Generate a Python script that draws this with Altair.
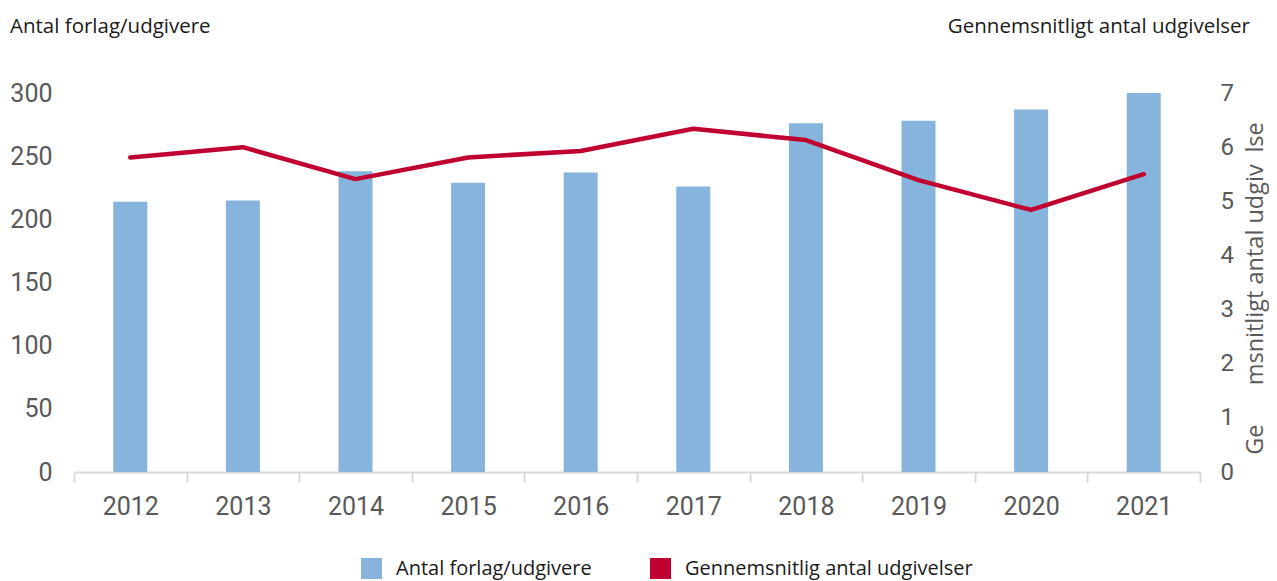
import altair as alt
import pandas as pd

years = ["2012", "2013", "2014", "2015", "2016", "2017", "2018", "2019", "2020", "2021"]
publishers = [214, 215, 238, 229, 237, 226, 276, 278, 287, 300]
avg_releases = [5.81, 6.00, 5.41, 5.81, 5.93, 6.34, 6.13, 5.39, 4.84, 5.50]
series_names = ["Antal forlag/udgivere", "Gennemsnitlig antal udgivelser"]
series_colors = ["#86b4dd", "#c0002f"]
left_ticks = [0, 50, 100, 150, 200, 250, 300]
right_ticks = [0, 1, 2, 3, 4, 5, 6, 7]
left_title = "Antal forlag/udgivere"
right_top_title = "Gennemsnitligt antal udgivelser"
right_axis_title = "Ge\u2003\u2002\u2009msnitligt antal udgiv\u2002lse"

FONT = "Roboto"
TFONT = "Open Sans"
GRAY = "#595959"

df = pd.DataFrame({"year": years, "publishers": publishers, "avg": avg_releases})

color_scale = alt.Scale(domain=series_names, range=series_colors)
legend = alt.Legend(
    orient="none", legendX=287, legendY=465, direction="horizontal", title=None,
    symbolType="square", symbolSize=440, symbolStrokeWidth=0,
    labelFontSize=20, labelFont=TFONT, labelColor="#1a1a1a", labelLimit=0,
    labelOffset=14, columnPadding=58,
)

x_enc = alt.X(
    "year:N", sort=years,
    scale=alt.Scale(paddingInner=0, paddingOuter=0),
    axis=alt.Axis(
        title=None, labelAngle=0, labelFontSize=25, labelFont=FONT, labelColor=GRAY,
        labelPadding=12, tickBand="extent", tickColor="#d9d9d9", tickSize=10,
        tickWidth=2, domainColor="#d9d9d9", domainWidth=2, grid=False,
    ),
)

bars = alt.Chart(df).transform_calculate(series=f"'{series_names[0]}'").mark_bar(size=34).encode(
    x=x_enc,
    y=alt.Y(
        "publishers:Q", scale=alt.Scale(domain=[0, 300], nice=False),
        axis=alt.Axis(
            title=None, orient="left", values=left_ticks, domain=False, ticks=False,
            grid=False, labelPadding=22, labelFontSize=25, labelFont=FONT, labelColor=GRAY,
        ),
    ),
    color=alt.Color("series:N", scale=color_scale, legend=legend),
)

line = alt.Chart(df).transform_calculate(series=f"'{series_names[1]}'").mark_line(
    strokeWidth=4.5, strokeCap="round", strokeJoin="round"
).encode(
    x=x_enc,
    y=alt.Y(
        "avg:Q", scale=alt.Scale(domain=[0, 7], nice=False),
        axis=alt.Axis(
            title=right_axis_title, orient="right", values=right_ticks, domain=False,
            ticks=False, grid=False, labelPadding=20, labelFontSize=24, labelFont=FONT,
            labelColor=GRAY, titleAngle=270, titleX=55, titleY=195, titleAlign="center",
            titleBaseline="middle", titleFontSize=23.5, titleFont=TFONT,
            titleFontWeight="normal", titleColor=GRAY,
        ),
    ),
    color=alt.Color("series:N", scale=color_scale, legend=legend),
)

t_left = alt.Chart(pd.DataFrame({"label": [left_title]})).mark_text(
    align="left", baseline="middle", fontSize=20.5, font=TFONT, color="#1a1a1a"
).encode(x=alt.value(-64), y=alt.value(-66), text="label:N")

t_right = alt.Chart(pd.DataFrame({"label": [right_top_title]})).mark_text(
    align="right", baseline="middle", fontSize=20.5, font=TFONT, color="#1a1a1a"
).encode(x=alt.value(1176), y=alt.value(-66), text="label:N")

chart = alt.layer(bars, line, t_left, t_right).resolve_scale(y="independent").properties(
    width=1126, height=379,
    autosize=alt.AutoSizeParams(type="none"),
    padding={"left": 66, "top": 85, "right": 69, "bottom": 108},
).configure_view(stroke=None)

chart.save("out.html", embed_options={"renderer": "svg", "actions": False})
